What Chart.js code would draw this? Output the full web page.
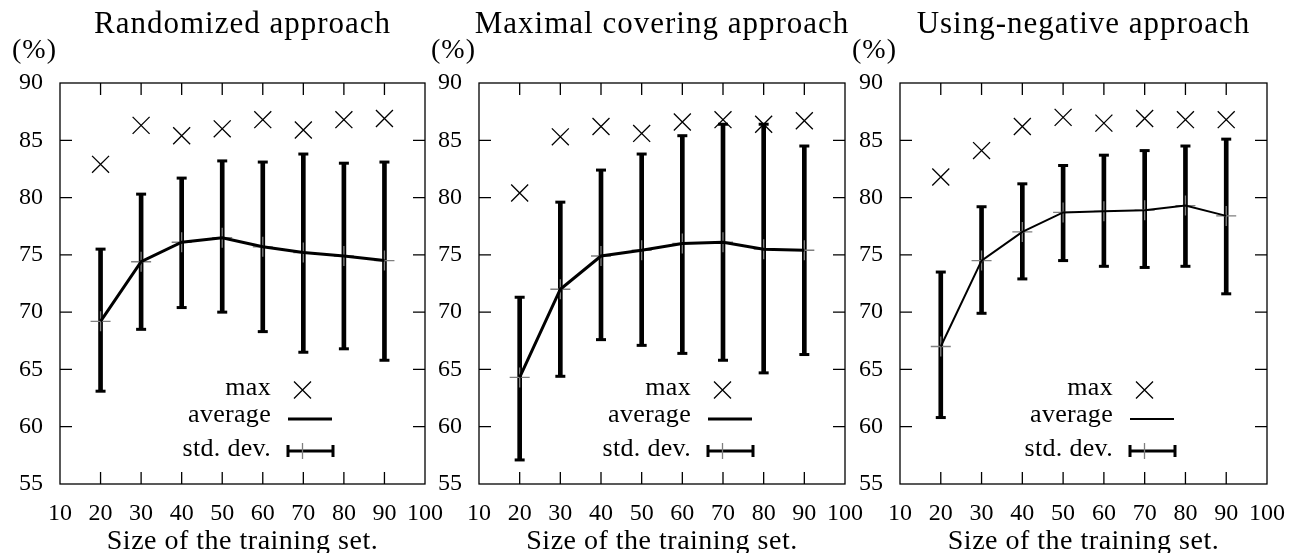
<!DOCTYPE html>
<html>
<head>
<meta charset="utf-8">
<script src="https://cdn.jsdelivr.net/npm/chart.js@4"></script>
<style>
  body { margin: 0; background: #fff; width: 1289px; height: 553px; overflow: hidden; position: relative; }
  canvas { position: absolute; top: 0; }
</style>
</head>
<body>
<canvas id="c1" width="445" height="553" style="left:0px"></canvas>
<canvas id="c2" width="445" height="553" style="left:419px"></canvas>
<canvas id="c3" width="445" height="553" style="left:840px"></canvas>
<script>
const sizes = [20, 30, 40, 50, 60, 70, 80, 90];
const xTicks = [10, 20, 30, 40, 50, 60, 70, 80, 90, 100];
const yTicks = [55, 60, 65, 70, 75, 80, 85, 90];

// Randomized approach
const randMax  = [82.9, 86.3, 85.4, 86.0, 86.8, 85.9, 86.8, 86.9];
const randAvg  = [69.2, 74.4, 76.1, 76.5, 75.7, 75.2, 74.9, 74.5];
const randHigh = [75.5, 80.3, 81.7, 83.2, 83.1, 83.8, 83.0, 83.1];
const randLow  = [63.1, 68.5, 70.4, 70.0, 68.3, 66.5, 66.8, 65.8];

// Maximal covering approach
const coverMax  = [80.4, 85.3, 86.2, 85.6, 86.6, 86.8, 86.4, 86.7];
const coverAvg  = [64.3, 72.0, 74.9, 75.4, 76.0, 76.1, 75.5, 75.4];
const coverHigh = [71.3, 79.6, 82.4, 83.8, 85.4, 86.4, 86.4, 84.5];
const coverLow  = [57.1, 64.4, 67.6, 67.1, 66.4, 65.8, 64.7, 66.3];

// Using-negative approach
const negMax  = [81.8, 84.1, 86.2, 87.0, 86.5, 86.9, 86.8, 86.8];
const negAvg  = [67.0, 74.5, 77.0, 78.7, 78.8, 78.9, 79.3, 78.4];
const negHigh = [73.5, 79.2, 81.2, 82.8, 83.7, 84.1, 84.5, 85.1];
const negLow  = [60.8, 69.9, 72.9, 74.5, 74.0, 73.9, 74.0, 71.6];

const FONT = '"Liberation Serif", "Times New Roman", serif';

function text(ctx, str, x, y, size, align, spacing) {
  ctx.save();
  ctx.font = size + 'px ' + FONT;
  ctx.letterSpacing = spacing + 'px';
  ctx.textAlign = align;
  ctx.textBaseline = 'alphabetic';
  ctx.fillStyle = '#000';
  ctx.fillText(str, x, y);
  ctx.restore();
}

// frame, inward ticks, titles and key
const decor = {
  id: 'decor',
  beforeDatasetsDraw(chart) {
    const { ctx, chartArea: a, scales: { x, y } } = chart;
    ctx.save();
    ctx.strokeStyle = '#000';
    ctx.lineWidth = 1.3;
    ctx.strokeRect(a.left, a.top, a.right - a.left, a.bottom - a.top);
    ctx.beginPath();
    xTicks.slice(1, -1).forEach(v => {
      const px = x.getPixelForValue(v);
      ctx.moveTo(px, a.bottom); ctx.lineTo(px, a.bottom - 12);
      ctx.moveTo(px, a.top); ctx.lineTo(px, a.top + 12);
    });
    yTicks.slice(1, -1).forEach(v => {
      const py = y.getPixelForValue(v);
      ctx.moveTo(a.left, py); ctx.lineTo(a.left + 12, py);
      ctx.moveTo(a.right, py); ctx.lineTo(a.right - 12, py);
    });
    ctx.stroke();
    ctx.restore();
  },
  afterDraw(chart, args, opts) {
    const { ctx, chartArea: a } = chart;
    const mid = (a.left + a.right) / 2;
    text(ctx, opts.title, mid, 33, 31, 'center', 1);
    text(ctx, '(%)', a.left - 3, 58, 28, 'right', 1);
    text(ctx, 'Size of the training set.', mid, 549, 28, 'center', 0.5);

    const r = a.right, b = a.bottom;
    text(ctx, 'max', r - 154, b - 89, 26, 'right', 0.3);
    text(ctx, 'average', r - 154, b - 62, 26, 'right', 0.3);
    text(ctx, 'std. dev.', r - 154, b - 28, 26, 'right', 0.3);

    ctx.save();
    ctx.strokeStyle = '#000';
    // max
    const cx = r - 122.5, cy = b - 94;
    ctx.lineWidth = 1.3;
    ctx.beginPath();
    ctx.moveTo(cx - 8.5, cy - 8.5); ctx.lineTo(cx + 8.5, cy + 8.5);
    ctx.moveTo(cx - 8.5, cy + 8.5); ctx.lineTo(cx + 8.5, cy - 8.5);
    ctx.stroke();
    // average
    ctx.lineWidth = opts.lineWidth;
    ctx.beginPath();
    ctx.moveTo(r - 137, b - 65); ctx.lineTo(r - 93, b - 65);
    ctx.stroke();
    // std. dev.
    ctx.lineWidth = 3;
    ctx.beginPath();
    ctx.moveTo(r - 137, b - 33); ctx.lineTo(r - 92, b - 33);
    ctx.moveTo(r - 137, b - 39); ctx.lineTo(r - 137, b - 27);
    ctx.moveTo(r - 92, b - 39); ctx.lineTo(r - 92, b - 27);
    ctx.stroke();
    ctx.strokeStyle = '#7f7f7f';
    ctx.lineWidth = 1.3;
    ctx.beginPath();
    ctx.moveTo(cx, b - 41); ctx.lineTo(cx, b - 25);
    ctx.stroke();
    ctx.restore();
  }
};

function makeChart(id, title, maxVals, avgVals, lowVals, highVals, lineWidth, rightPad) {
  new Chart(document.getElementById(id), {
    type: 'scatter',
    data: {
      datasets: [
        {
          type: 'bar',
          data: sizes.map((x, i) => ({ x: x, y: [lowVals[i], highVals[i]] })),
          backgroundColor: '#000',
          borderWidth: 0,
          barThickness: 4,
          grouped: false,
          order: 5
        },
        {
          data: sizes.map((x, i) => ({ x: x, y: lowVals[i] })),
          pointStyle: 'line', pointRadius: 5, pointBorderWidth: 3, pointBorderColor: '#000',
          order: 4
        },
        {
          data: sizes.map((x, i) => ({ x: x, y: highVals[i] })),
          pointStyle: 'line', pointRadius: 5, pointBorderWidth: 3, pointBorderColor: '#000',
          order: 4
        },
        {
          data: sizes.map((x, i) => ({ x: x, y: avgVals[i] })),
          pointStyle: 'cross', pointRadius: 10, pointBorderWidth: 1.3, pointBorderColor: '#7f7f7f',
          order: 3
        },
        {
          type: 'line',
          data: sizes.map((x, i) => ({ x: x, y: avgVals[i] })),
          borderColor: '#000', borderWidth: lineWidth, pointRadius: 0, tension: 0, fill: false,
          order: 2
        },
        {
          data: sizes.map((x, i) => ({ x: x, y: maxVals[i] })),
          pointStyle: 'crossRot', pointRadius: 12, pointBorderWidth: 1.3, pointBorderColor: '#000',
          order: 1
        }
      ]
    },
    options: {
      responsive: false,
      animation: false,
      devicePixelRatio: 1,
      events: [],
      layout: { padding: { top: 83, left: 0, right: rightPad, bottom: 0 } },
      plugins: {
        legend: { display: false },
        tooltip: { enabled: false },
        decor: { title: title, lineWidth: lineWidth }
      },
      scales: {
        x: {
          type: 'linear', min: 10, max: 100, offset: false,
          afterBuildTicks: s => { s.ticks = xTicks.map(v => ({ value: v })); },
          afterFit: s => { s.height = 69; s.paddingLeft = 0; s.paddingRight = 0; },
          grid: { display: false, drawTicks: false },
          border: { display: false },
          ticks: { font: { family: FONT, size: 24 }, color: '#000', padding: 15, maxRotation: 0, autoSkip: false }
        },
        y: {
          type: 'linear', min: 55, max: 90,
          afterBuildTicks: s => { s.ticks = yTicks.map(v => ({ value: v })); },
          afterFit: s => { s.width = 60; s.paddingTop = 0; s.paddingBottom = 0; },
          grid: { display: false, drawTicks: false },
          border: { display: false },
          ticks: { font: { family: FONT, size: 24 }, color: '#000', padding: 17, autoSkip: false }
        }
      }
    },
    plugins: [decor]
  });
}

makeChart('c1', 'Randomized approach', randMax, randAvg, randLow, randHigh, 3, 20);
makeChart('c2', 'Maximal covering approach', coverMax, coverAvg, coverLow, coverHigh, 3, 19);
makeChart('c3', 'Using-negative approach', negMax, negAvg, negLow, negHigh, 2, 18);
</script>
</body>
</html>
